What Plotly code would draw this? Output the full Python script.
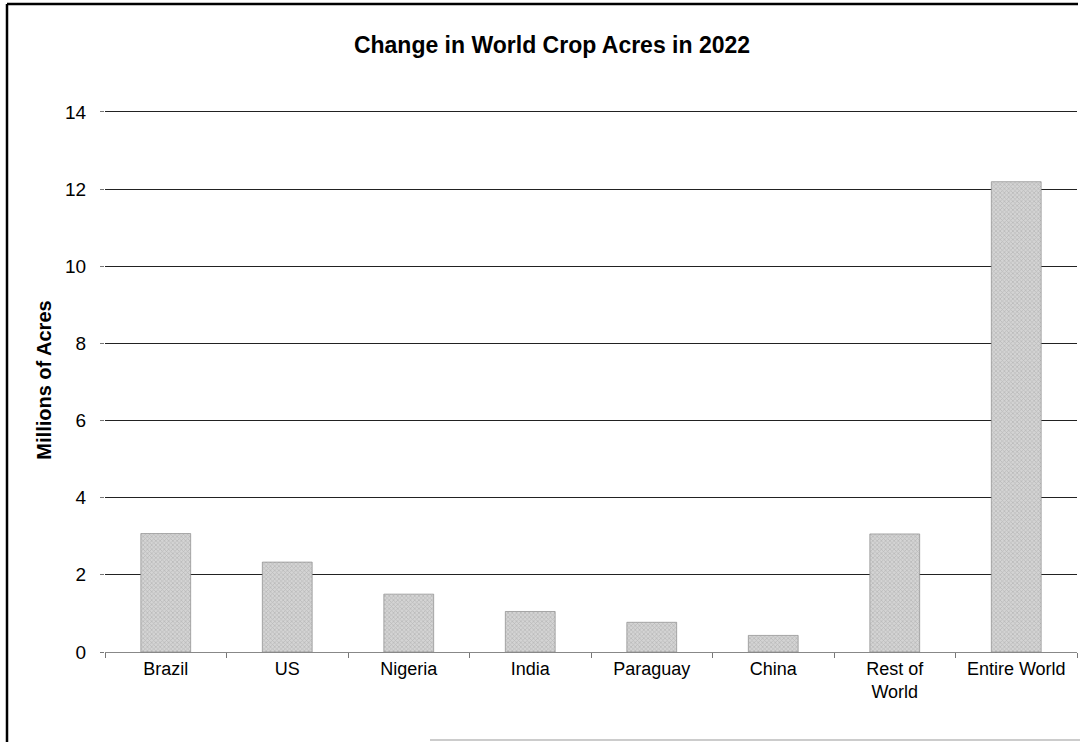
import plotly.graph_objects as go

categories = ["Brazil", "US", "Nigeria", "India", "Paraguay", "China", "Rest of<br>World", "Entire World"]
values = [3.07, 2.33, 1.50, 1.05, 0.77, 0.43, 3.06, 12.19]
y_ticks = [0, 2, 4, 6, 8, 10, 12, 14]

fig = go.Figure()
fig.add_trace(go.Bar(
    x=categories, y=values, width=0.41,
    marker=dict(
        color="#c8c8c8",
        line=dict(color="#8a8a8a", width=0.7),
        pattern=dict(shape="x", size=3, solidity=0.4, fgcolor="#989898", bgcolor="#d4d4d4"),
    ),
    showlegend=False,
))

fig.update_layout(
    width=1084, height=742,
    paper_bgcolor="white", plot_bgcolor="white",
    margin=dict(l=105, r=7, t=108, b=90),
    title=dict(text="<b>Change in World Crop Acres in 2022</b>", x=552 / 1084, xanchor="center",
               y=1 - 45 / 742, yanchor="middle",
               font=dict(family="Liberation Sans, Arial", size=23, color="black")),
    font=dict(family="Liberation Sans, Arial", size=18, color="black"),
    bargap=0.59,
    xaxis=dict(
        tickson="boundaries", ticks="outside", ticklen=5, tickcolor="#777",
        showline=True, linecolor="#888", linewidth=1,
        showgrid=False, tickfont=dict(size=18), fixedrange=True,
    ),
    yaxis=dict(
        range=[0, 14.1], tickvals=y_ticks, ticks="outside", ticklen=4, tickcolor="#777",
        ticklabelstandoff=10,
        showgrid=True, gridcolor="#222", gridwidth=1,
        zeroline=False, showline=False, tickfont=dict(size=19),
        title=dict(text="<b>Millions of Acres</b>", font=dict(size=20), standoff=8),
    ),
    shapes=[
        dict(type="line", xref="paper", yref="paper",
             x0=-(105 - 7) / 972, x1=-(105 - 7) / 972, y0=-(90) / 544, y1=(742 - 4 - 90) / 544,
             line=dict(color="black", width=2.5)),
        dict(type="line", xref="paper", yref="paper",
             x0=-(105 - 7) / 972, x1=(1078 - 105) / 972, y0=(742 - 4 - 90) / 544, y1=(742 - 4 - 90) / 544,
             line=dict(color="black", width=2.5)),
        dict(type="line", xref="paper", yref="paper",
             x0=(430 - 105) / 972, x1=(1080 - 105) / 972, y0=-(90 - 2) / 544, y1=-(90 - 2) / 544,
             line=dict(color="#999", width=1)),
    ],
)

fig.write_html("out.html")
